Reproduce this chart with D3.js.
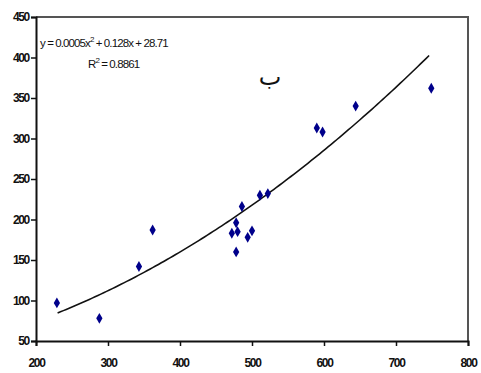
<!DOCTYPE html>
<html>
<head>
<meta charset="utf-8">
<script src="https://cdn.jsdelivr.net/npm/d3@7"></script>
<style>
  body { margin: 0; background: #fff; }
  svg text { font-family: "Liberation Sans", Arial, sans-serif; }
</style>
</head>
<body>
<svg id="chart" width="481" height="373"></svg>
<script>
const xValues = [229, 288, 343, 362, 472, 478, 478, 480, 486, 494, 500, 511, 522, 590, 598, 644, 749];
const yValues = [97, 78, 142, 187, 183, 196, 160, 185, 216, 178, 186, 230, 232, 313, 308, 340, 362];
const fitCoef = [0.0005, 0.128, 28.71];
const fitRange = [230, 746];
const xTicks = [200, 300, 400, 500, 600, 700, 800];
const yTicks = [50, 100, 150, 200, 250, 300, 350, 400, 450];

const svg = d3.select("#chart");
const margin = { left: 36, top: 17, right: 13, bottom: 32 };
const width = 481, height = 373;

const x = d3.scaleLinear().domain([200, 800]).range([margin.left, width - margin.right]);
const y = d3.scaleLinear().domain([50, 450]).range([height - margin.bottom, margin.top]);

// frame (top and right)
svg.append("path")
  .attr("d", `M${x(200)},${y(450)}H${x(800)}V${y(50)}`)
  .attr("fill", "none").attr("stroke", "#555").attr("stroke-width", 2);

const xAxis = svg.append("g").attr("transform", `translate(0,${y(50)})`)
  .call(d3.axisBottom(x).tickValues(xTicks).tickSize(5).tickPadding(12));
const yAxis = svg.append("g").attr("transform", `translate(${x(200)},0)`)
  .call(d3.axisLeft(y).tickValues(yTicks).tickSize(5).tickPadding(2));

[xAxis, yAxis].forEach(a => {
  a.select(".domain").attr("stroke", "#111").attr("stroke-width", 2);
  a.selectAll(".tick line").attr("stroke", "#111").attr("stroke-width", 1.5);
  a.selectAll(".tick text").attr("fill", "#111").attr("font-size", 12)
    .attr("font-weight", "bold").attr("letter-spacing", "-1.3px")
    .style("font-family", "'Liberation Sans', Arial, sans-serif");
});

// trend line from the shown equation
const fitX = d3.range(fitRange[0], fitRange[1] + 1, 4);
const fitLine = d3.line().x(d => x(d)).y(d => y(fitCoef[0] * d * d + fitCoef[1] * d + fitCoef[2]));
svg.append("path").datum(fitX).attr("d", fitLine)
  .attr("fill", "none").attr("stroke", "#111").attr("stroke-width", 1.6);

svg.append("g").selectAll("path").data(xValues).join("path")
  .attr("d", d3.symbol().type(d3.symbolDiamond).size(34))
  .attr("transform", (d, i) => `translate(${x(d)},${y(yValues[i])})`)
  .attr("fill", "#00008b");

// equation labels
const eq = svg.append("text").attr("x", 40).attr("y", 47)
  .attr("font-size", 11.5).attr("letter-spacing", "-0.9px").attr("fill", "#111");
eq.append("tspan").text("y = 0.0005x");
eq.append("tspan").attr("dy", -5).attr("font-size", 8).text("2");
eq.append("tspan").attr("dy", 5).text(" + 0.128x + 28.71");

const r2 = svg.append("text").attr("x", 88).attr("y", 68)
  .attr("font-size", 11.5).attr("letter-spacing", "-0.9px").attr("fill", "#111");
r2.append("tspan").text("R");
r2.append("tspan").attr("dy", -5).attr("font-size", 8).text("2");
r2.append("tspan").attr("dy", 5).text(" = 0.8861");

svg.append("text").attr("x", 270).attr("y", 85).attr("text-anchor", "middle")
  .attr("font-size", 24).attr("fill", "#111")
  .style("font-family", "'DejaVu Sans', 'Noto Sans', sans-serif")
  .text("ب");
</script>
</body>
</html>
